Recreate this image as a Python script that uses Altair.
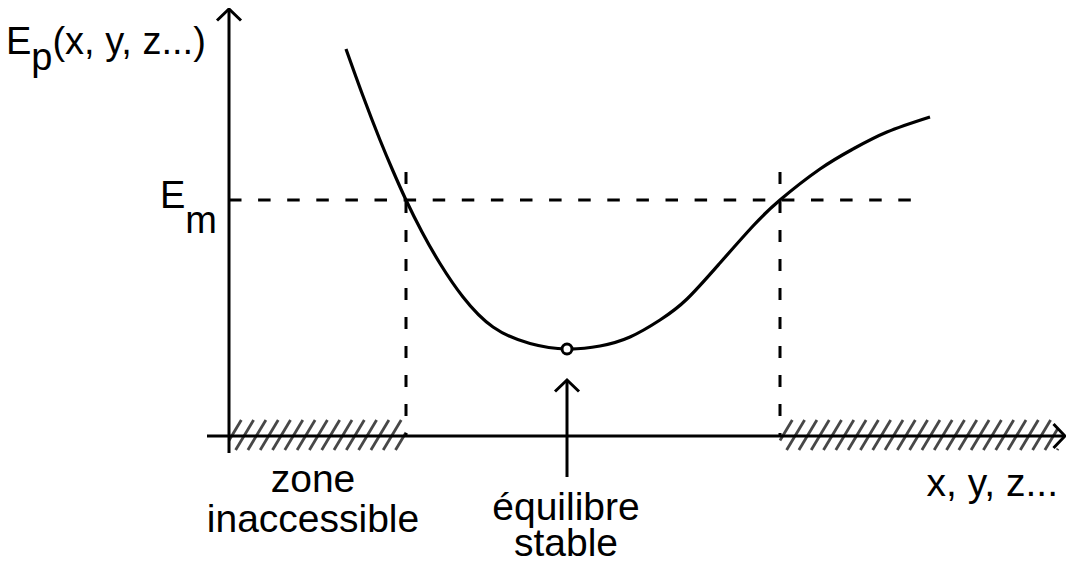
import altair as alt
import numpy as np
import pandas as pd

# ---------------- data (origin = intersection of the two axes) ----------------
curve_x = [117, 134, 151, 164, 177, 193, 211, 234, 264, 301, 338, 371, 401, 431,
           458, 491, 524, 551, 591, 624, 658, 701]
curve_y = [387, 340, 296, 265, 236, 204, 172.5, 139, 109, 92.5, 87, 90, 99, 116,
           137, 173, 210, 236, 267, 287, 304, 319]

energy_level = 236            # E_m
turning_x = [177, 551]        # where the curve crosses E_m
equilibrium = (338, 87)       # stable equilibrium (minimum)
zone_left = (0, 177)          # forbidden zones along the x axis
zone_right = (551, 829)

label_center_text = ["zone", "inaccessible", "équilibre", "stable"]
label_center_x = [84, 84, 337, 337]
label_center_y = [-56, -96, -84, -120]

# ---------------- scales ----------------
XDOM = [-221, 837]
YDOM = [-121, 428]
W, H = 1058, 549
FONT = "Liberation Sans"


def X(f, **kw):
    return alt.X(f, type="quantitative", scale=alt.Scale(domain=XDOM, nice=False, zero=False), axis=None, **kw)


def Y(f, **kw):
    return alt.Y(f, type="quantitative", scale=alt.Scale(domain=YDOM, nice=False, zero=False), axis=None, **kw)


# curve
curve_df = pd.DataFrame({"x": curve_x, "y": curve_y})
curve = alt.Chart(curve_df).mark_line(color="black", strokeWidth=3.2, interpolate="natural").encode(
    x=X("x"), y=Y("y"))

# dashed E_m level and vertical dashed lines
hdash_df = pd.DataFrame({"x": [0], "x2": [683], "y": [energy_level]})
hdash = alt.Chart(hdash_df).mark_rule(color="black", strokeWidth=3, strokeDash=[12.5, 16.6]).encode(
    x=X("x"), x2="x2", y=Y("y"))
vdash_df = pd.DataFrame({"x": turning_x, "y": [energy_level + 28] * 2, "y2": [0, 0]})
vdash = alt.Chart(vdash_df).mark_rule(color="black", strokeWidth=3, strokeDash=[12, 17]).encode(
    x=X("x"), y=Y("y"), y2="y2")

# hatching of forbidden zones (clipped diagonal strokes)
def hatch(x0, x1, yb=-14, yt=16, spacing=12.3, dx=18.0):
    segs = []
    c = x0 - dx
    while c < x1:
        tmin = max(0.0, (x0 - c) / dx)
        tmax = min(1.0, (x1 - c) / dx)
        if tmax > tmin:
            segs.append({"x": c + tmin * dx, "y": yb + tmin * (yt - yb),
                         "x2": c + tmax * dx, "y2": yb + tmax * (yt - yb)})
        c += spacing
    return segs

hatch_df = pd.DataFrame(hatch(*zone_left) + hatch(*zone_right))
hatching = alt.Chart(hatch_df).mark_rule(color="#474747", strokeWidth=2.8).encode(
    x=X("x"), y=Y("y"), x2="x2", y2="y2")

# axes
axes_df = pd.DataFrame({"x": [0, -22], "y": [-17, 0], "x2": [0, 836], "y2": [427, 0]})
axes = alt.Chart(axes_df).mark_rule(color="black", strokeWidth=3).encode(
    x=X("x"), y=Y("y"), x2="x2", y2="y2")

# arrow pointing at the equilibrium
eq_arrow_df = pd.DataFrame({"x": [equilibrium[0]], "y": [-41], "y2": [56]})
eq_arrow = alt.Chart(eq_arrow_df).mark_rule(color="black", strokeWidth=3).encode(
    x=X("x"), y=Y("y"), y2="y2")

# arrow heads (chevrons): tip and direction
tips = [((0, 427), (0, 1)), ((836, 0), (1, 0)), ((equilibrium[0], 56), (0, 1))]
rows = []
for i, ((tx, ty), (ux, uy)) in enumerate(tips):
    back, side = 11.5, 12.0
    px, py = -uy, ux
    pts = [(tx - ux * back + px * side, ty - uy * back + py * side), (tx, ty),
           (tx - ux * back - px * side, ty - uy * back - py * side)]
    for k, (a, b) in enumerate(pts):
        rows.append({"a": i, "k": k, "x": a, "y": b})
heads = alt.Chart(pd.DataFrame(rows)).mark_line(color="black", strokeWidth=3, strokeJoin="miter").encode(
    x=X("x"), y=Y("y"), detail="a:N", order="k:Q")

# minimum point
pt = alt.Chart(pd.DataFrame({"x": [equilibrium[0]], "y": [equilibrium[1]]})).mark_point(
    shape="circle", filled=True, fill="white", stroke="black", strokeWidth=3, size=100, opacity=1).encode(
    x=X("x"), y=Y("y"))

# texts
center_df = pd.DataFrame({"t": label_center_text, "x": label_center_x, "y": label_center_y})
center_txt = alt.Chart(center_df).mark_text(font=FONT, fontSize=39, align="center", baseline="alphabetic",
                                            color="black").encode(x=X("x"), y=Y("y"), text="t:N")

right_txt = alt.Chart(pd.DataFrame({"t": ["x, y, z..."], "x": [829], "y": [-60]})).mark_text(
    font=FONT, fontSize=39, align="right", baseline="alphabetic", color="black").encode(
    x=X("x"), y=Y("y"), text="t:N")

left_df = pd.DataFrame({"t": ["E", "p", "(x, y, z...)", "E", "m"],
                        "x": [-223, -197.7, -176.6, -69, -43.7],
                        "y": [382, 366, 382, 228, 203]})
left_txt = alt.Chart(left_df).mark_text(font=FONT, fontSize=38, align="left", baseline="alphabetic",
                                        color="black").encode(x=X("x"), y=Y("y"), text="t:N")

chart = alt.layer(hatching, axes, hdash, vdash, curve, eq_arrow, heads, pt,
                  center_txt, right_txt, left_txt).properties(
    width=W, height=H, padding=0, autosize=alt.AutoSizeParams(type="none")
).configure_view(stroke=None)

chart.save("out.html", embed_options={"renderer": "svg", "actions": False})
